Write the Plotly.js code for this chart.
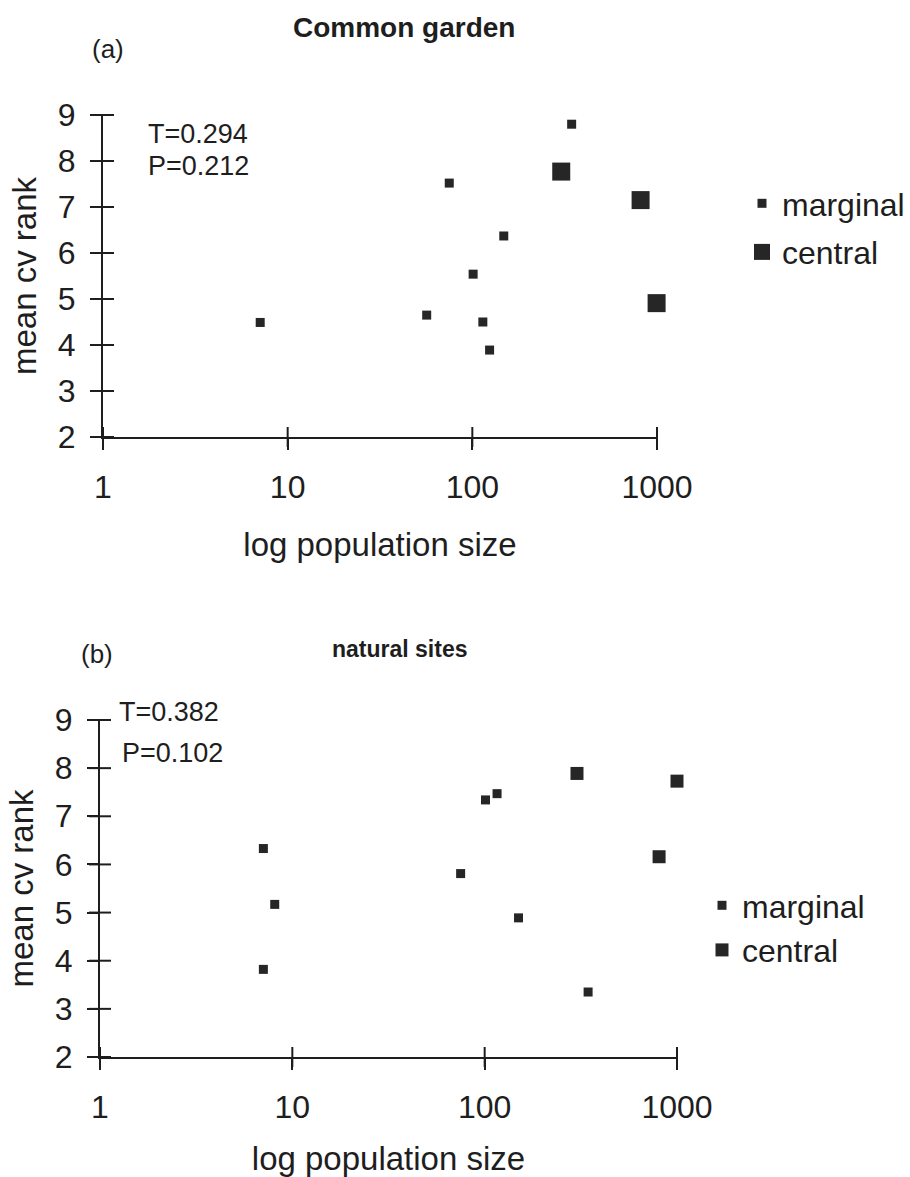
<!DOCTYPE html>
<html>
<head>
<meta charset="utf-8">
<script src="https://cdn.plot.ly/plotly-3.0.1.min.js"></script>
<style>html,body{margin:0;padding:0;background:#fff;}#chart{width:910px;height:1177px;}</style>
</head>
<body>
<div id="chart"></div>
<script>
// ---- data ----
var tickVals = [1, 10, 100, 1000];
var tickText = ['1', '10', '100', '1000'];
var yTickVals = [2, 3, 4, 5, 6, 7, 8, 9];
var xRangeLog = [0, 3];   // log10 of 1 .. 1000
var yRange = [2, 9];

// (a) Common garden
var gardenMarginalX = [7.1, 56.6, 75, 101, 114, 124, 148, 345];
var gardenMarginalY = [4.49, 4.65, 7.52, 5.54, 4.5, 3.89, 6.37, 8.8];
var gardenCentralX = [303, 815, 995];
var gardenCentralY = [7.77, 7.15, 4.91];

// (b) natural sites
var naturalMarginalX = [7.07, 7.07, 8.1, 75, 101, 116, 150, 345];
var naturalMarginalY = [6.33, 3.82, 5.17, 5.81, 7.34, 7.47, 4.89, 3.35];
var naturalCentralX = [302, 807, 1000];
var naturalCentralY = [7.89, 6.16, 7.73];

var seriesNames = ['marginal', 'central'];
var panelTitles = ['Common garden', 'natural sites'];
var panelLetters = ['(a)', '(b)'];
var statsA = ['T=0.294', 'P=0.212'];
var statsB = ['T=0.382', 'P=0.102'];
var xTitle = 'log population size';
var yTitle = 'mean cv rank';

// ---- styling ----
var FONT = 'Liberation Sans, Arial, Helvetica, sans-serif';
var INK = '#1e1e1e';
var MK = '#262626';
var W = 910, H = 1177;
function px(x) { return x / W; }
function py(y) { return 1 - y / H; }

var traces = [
  {x: gardenMarginalX, y: gardenMarginalY, name: seriesNames[0], type: 'scatter', mode: 'markers',
   xaxis: 'x', yaxis: 'y', legend: 'legend', legendgroup: 'a1', cliponaxis: false,
   marker: {symbol: 'square', size: 9, color: MK}},
  {x: gardenCentralX, y: gardenCentralY, name: seriesNames[1], type: 'scatter', mode: 'markers',
   xaxis: 'x', yaxis: 'y', legend: 'legend', legendgroup: 'a2', cliponaxis: false,
   marker: {symbol: 'square', size: 18, color: MK}},
  {x: naturalMarginalX, y: naturalMarginalY, name: seriesNames[0], type: 'scatter', mode: 'markers',
   xaxis: 'x2', yaxis: 'y2', legend: 'legend2', legendgroup: 'b1', cliponaxis: false,
   marker: {symbol: 'square', size: 9, color: MK}},
  {x: naturalCentralX, y: naturalCentralY, name: seriesNames[1], type: 'scatter', mode: 'markers',
   xaxis: 'x2', yaxis: 'y2', legend: 'legend2', legendgroup: 'b2', cliponaxis: false,
   marker: {symbol: 'square', size: 13, color: MK}}
];

function xAxis(domain, anchor) {
  return {
    domain: domain, anchor: anchor, type: 'log', range: xRangeLog,
    showline: true, linecolor: INK, linewidth: 2, mirror: false,
    ticks: 'outside', ticklen: 11, tickwidth: 2, tickcolor: INK,
    tickvals: tickVals, ticktext: tickText, ticklabelstandoff: 10,
    tickfont: {family: FONT, size: 32, color: INK},
    showgrid: false, zeroline: false, automargin: false, fixedrange: true,
    title: {text: xTitle, font: {family: FONT, size: 33, color: INK}, standoff: 28}
  };
}
function yAxis(domain, anchor) {
  return {
    domain: domain, anchor: anchor, range: yRange,
    showline: true, linecolor: INK, linewidth: 2,
    ticks: 'outside', ticklen: 11, tickwidth: 2, tickcolor: INK,
    tickvals: yTickVals, ticklabelstandoff: 8,
    tickfont: {family: FONT, size: 32, color: INK},
    showgrid: false, zeroline: false, automargin: false, fixedrange: true,
    title: {text: yTitle, font: {family: FONT, size: 33, color: INK}, standoff: 11}
  };
}

var domA_x = [px(103), px(657)], domA_y = [py(437), py(115)];
var domB_x = [px(100), px(677)], domB_y = [py(1057), py(720)];

// crossing tick marks: short lines through the axis lines at the tick values
function crossTicks(dx, dy) {
  var s = [];
  var hx = 11 / W, hy = 10 / H;
  tickVals.forEach(function (v) {
    var f = (Math.log10(v) - xRangeLog[0]) / (xRangeLog[1] - xRangeLog[0]);
    var xp = dx[0] + f * (dx[1] - dx[0]);
    s.push({type: 'line', xref: 'paper', yref: 'paper', x0: xp, x1: xp,
      y0: dy[0] - hy, y1: dy[0] + hy, layer: 'above',
      line: {color: INK, width: 2}});
  });
  yTickVals.forEach(function (v) {
    var f = (v - yRange[0]) / (yRange[1] - yRange[0]);
    var yp = dy[0] + f * (dy[1] - dy[0]);
    s.push({type: 'line', xref: 'paper', yref: 'paper', y0: yp, y1: yp,
      x0: dx[0] - hx, x1: dx[0] + hx, layer: 'above',
      line: {color: INK, width: 2}});
  });
  return s;
}

function ann(text, x, y, size, bold, xanchor) {
  return {text: bold ? '<b>' + text + '</b>' : text, xref: 'paper', yref: 'paper', x: px(x), y: py(y),
    xanchor: xanchor || 'left', yanchor: 'middle', showarrow: false,
    font: {family: FONT, size: size, color: INK}};
}

var layout = {
  width: W, height: H,
  margin: {l: 0, r: 0, t: 0, b: 0, pad: 0},
  paper_bgcolor: '#ffffff', plot_bgcolor: 'rgba(0,0,0,0)',
  font: {family: FONT, color: INK},
  showlegend: true,
  xaxis: xAxis(domA_x, 'y'),
  yaxis: yAxis(domA_y, 'x'),
  xaxis2: xAxis(domB_x, 'y2'),
  yaxis2: yAxis(domB_y, 'x2'),
  shapes: crossTicks(domA_x, domA_y).concat(crossTicks(domB_x, domB_y)),
  legend: {x: px(742), y: py(176), xanchor: 'left', yanchor: 'top', bgcolor: 'rgba(0,0,0,0)',
    font: {family: FONT, size: 32, color: INK}, itemsizing: 'trace', traceorder: 'grouped',
    tracegroupgap: 4, itemclick: false, itemdoubleclick: false},
  legend2: {x: px(702), y: py(878), xanchor: 'left', yanchor: 'top', bgcolor: 'rgba(0,0,0,0)',
    font: {family: FONT, size: 32, color: INK}, itemsizing: 'trace', traceorder: 'grouped',
    tracegroupgap: 0, itemclick: false, itemdoubleclick: false},
  annotations: [
    ann(panelTitles[0], 404, 28, 28, true, 'center'),
    ann(panelLetters[0], 90, 49, 26, false),
    ann(statsA[0], 146, 134, 27, false),
    ann(statsA[1], 146, 166, 27, false),
    ann(panelTitles[1], 400, 649, 23, true, 'center'),
    ann(panelLetters[1], 79, 654, 26, false),
    ann(statsB[0], 117, 712, 27, false),
    ann(statsB[1], 120, 753, 27, false)
  ]
};

Plotly.newPlot('chart', traces, layout, {staticPlot: true, displayModeBar: false});
</script>
</body>
</html>
